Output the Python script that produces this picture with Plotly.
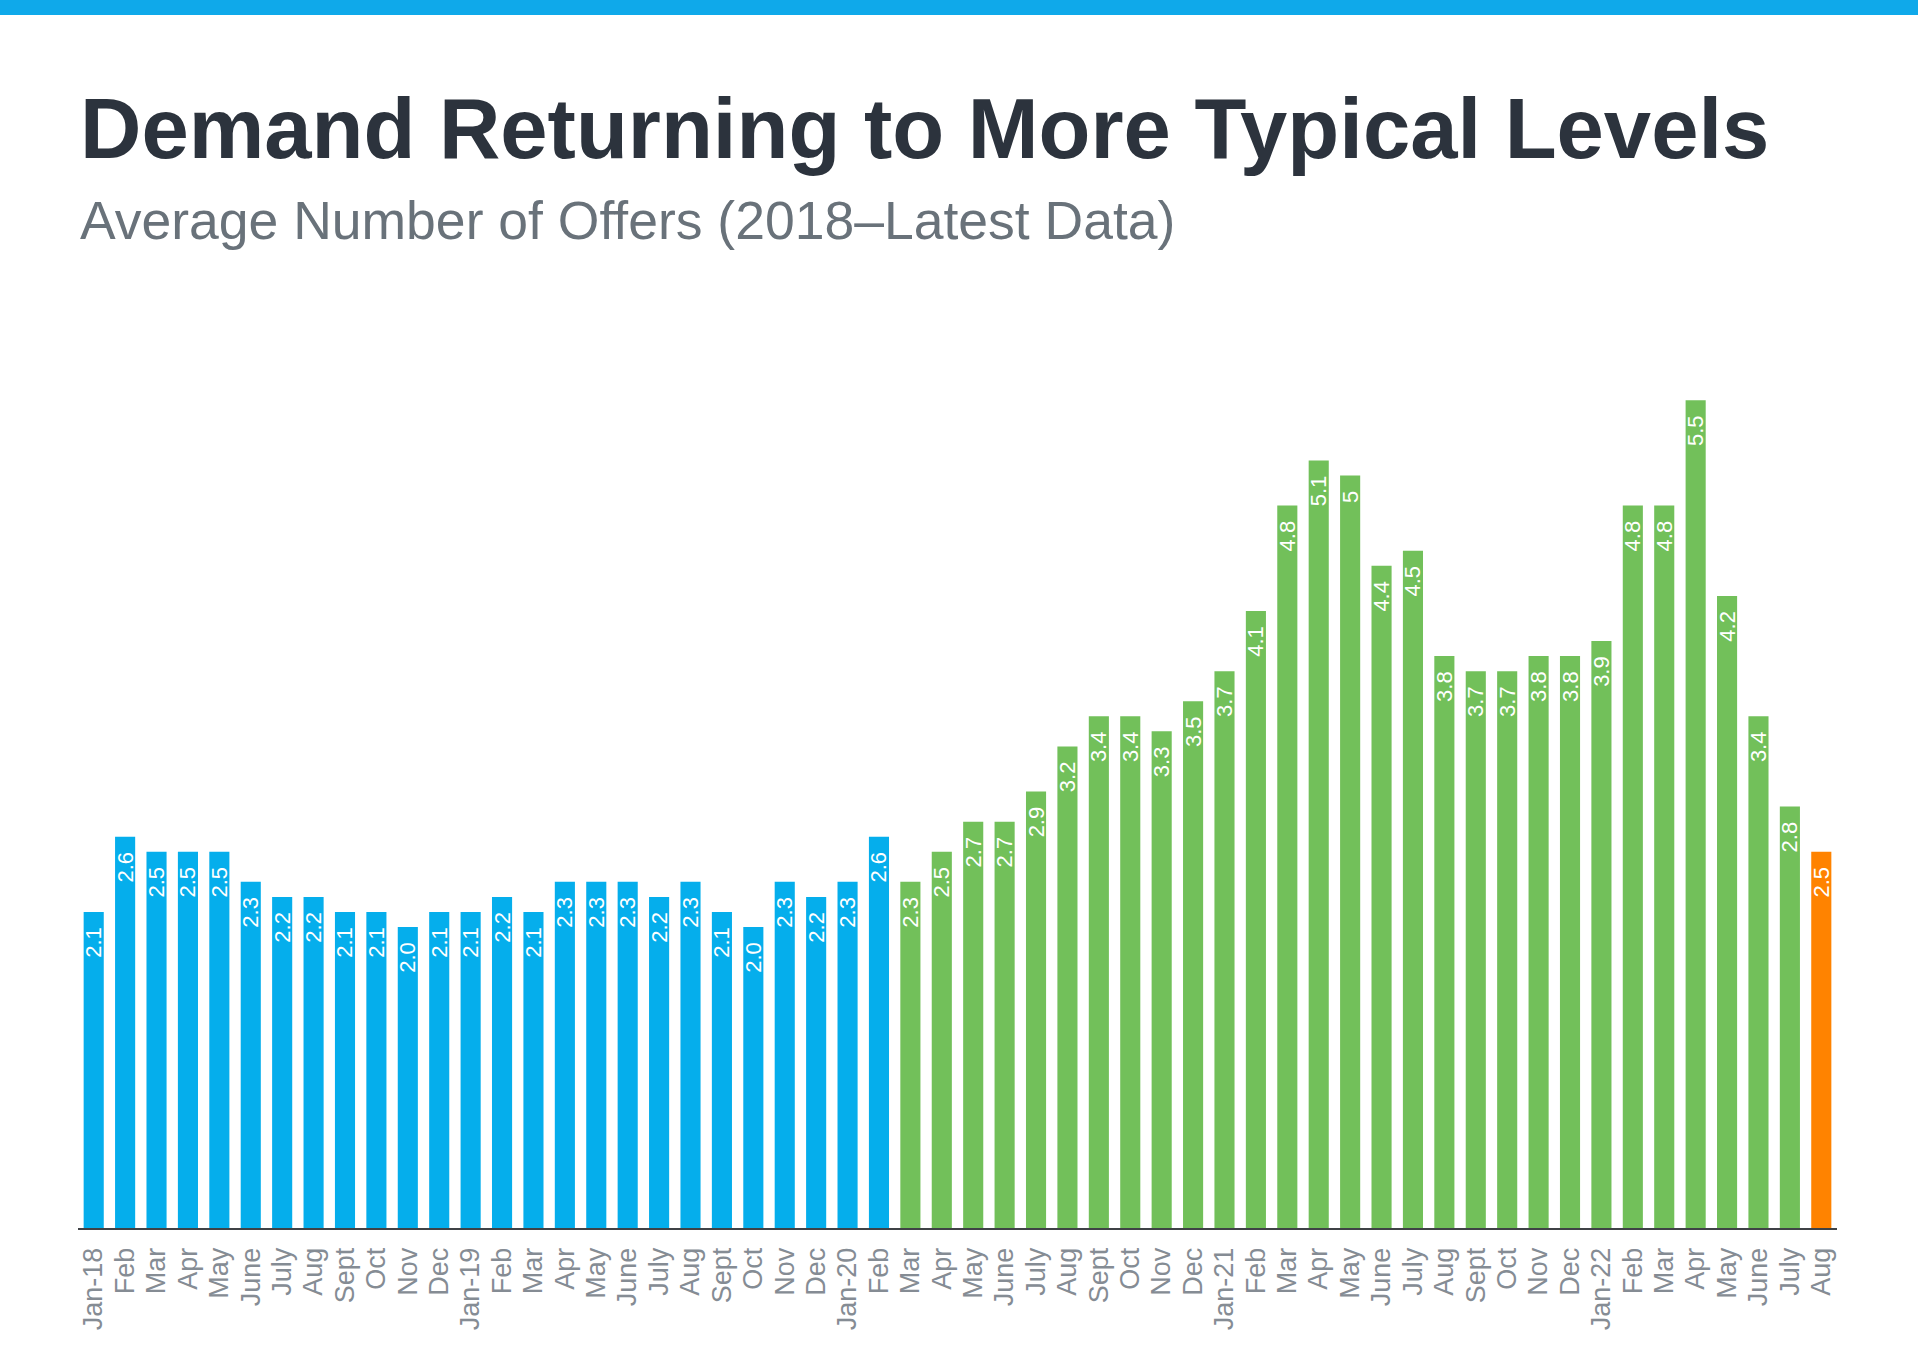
import plotly.graph_objects as go

# ---- data ----
month_labels = [
    "Jan-18", "Feb", "Mar", "Apr", "May", "June", "July", "Aug", "Sept", "Oct", "Nov", "Dec",
    "Jan-19", "Feb", "Mar", "Apr", "May", "June", "July", "Aug", "Sept", "Oct", "Nov", "Dec",
    "Jan-20", "Feb", "Mar", "Apr", "May", "June", "July", "Aug", "Sept", "Oct", "Nov", "Dec",
    "Jan-21", "Feb", "Mar", "Apr", "May", "June", "July", "Aug", "Sept", "Oct", "Nov", "Dec",
    "Jan-22", "Feb", "Mar", "Apr", "May", "June", "July", "Aug",
]
offers = [
    2.1, 2.6, 2.5, 2.5, 2.5, 2.3, 2.2, 2.2, 2.1, 2.1, 2.0, 2.1,
    2.1, 2.2, 2.1, 2.3, 2.3, 2.3, 2.2, 2.3, 2.1, 2.0, 2.3, 2.2,
    2.3, 2.6, 2.3, 2.5, 2.7, 2.7, 2.9, 3.2, 3.4, 3.4, 3.3, 3.5,
    3.7, 4.1, 4.8, 5.1, 5.0, 4.4, 4.5, 3.8, 3.7, 3.7, 3.8, 3.8,
    3.9, 4.8, 4.8, 5.5, 4.2, 3.4, 2.8, 2.5,
]
offer_labels = [
    "2.1", "2.6", "2.5", "2.5", "2.5", "2.3", "2.2", "2.2", "2.1", "2.1", "2.0", "2.1",
    "2.1", "2.2", "2.1", "2.3", "2.3", "2.3", "2.2", "2.3", "2.1", "2.0", "2.3", "2.2",
    "2.3", "2.6", "2.3", "2.5", "2.7", "2.7", "2.9", "3.2", "3.4", "3.4", "3.3", "3.5",
    "3.7", "4.1", "4.8", "5.1", "5", "4.4", "4.5", "3.8", "3.7", "3.7", "3.8", "3.8",
    "3.9", "4.8", "4.8", "5.5", "4.2", "3.4", "2.8", "2.5",
]
# period of each bar: pre-pandemic (through Feb-20), pandemic era, latest month
period_counts = {"pre": 26, "pandemic": 29, "latest": 1}
period_colors = {"pre": "#05AEEC", "pandemic": "#72C05A", "latest": "#FF8300"}

TITLE = "Demand Returning to More Typical Levels"
SUBTITLE = "Average Number of Offers (2018\u2013Latest Data)"

# ---- build ----
bar_colors = []
for p, n in period_counts.items():
    bar_colors += [period_colors[p]] * n

x_idx = list(range(len(offers)))
pad = "\u00a0\u00a0"

fig = go.Figure(
    go.Bar(
        x=x_idx,
        y=offers,
        marker=dict(color=bar_colors, line=dict(width=0)),
        text=[t + pad for t in offer_labels],
        textposition="inside",
        insidetextanchor="end",
        textangle=-90,
        constraintext="none",
        insidetextfont=dict(family="Liberation Sans, Arial, sans-serif", size=22, color="white"),
        hoverinfo="skip",
    )
)

W, H = 1918, 1348
ml, mr, mt, mb = 78, 81, 325, 120
plot_w = W - ml - mr
plot_h = H - mt - mb


def px_to_paper_x(px):
    return (px - ml) / plot_w


def px_to_paper_y(py):
    return (H - mb - py) / plot_h


fig.update_layout(
    width=W,
    height=H,
    margin=dict(l=ml, r=mr, t=mt, b=mb, pad=0),
    paper_bgcolor="white",
    plot_bgcolor="white",
    showlegend=False,
    bargap=0.36,
    font=dict(family="Liberation Sans, Arial, sans-serif"),
    xaxis=dict(
        tickmode="array",
        tickvals=x_idx,
        ticktext=month_labels,
        tickangle=-90,
        tickfont=dict(size=27, color="#858C94"),
        ticks="outside",
        ticklen=7,
        tickcolor="rgba(0,0,0,0)",
        showline=True,
        linecolor="#3F4246",
        linewidth=2,
        showgrid=False,
        zeroline=False,
        range=[-0.5, len(offers) - 0.5],
        fixedrange=True,
    ),
    yaxis=dict(visible=False, range=[0, 6], showgrid=False, zeroline=False, fixedrange=True),
    shapes=[
        dict(
            type="rect", xref="paper", yref="paper",
            x0=px_to_paper_x(-2), x1=px_to_paper_x(W + 2),
            y0=px_to_paper_y(15), y1=px_to_paper_y(-2),
            fillcolor="#0FA9EA", line=dict(width=0), layer="above",
        )
    ],
    annotations=[
        dict(
            text="<b>" + TITLE + "</b>", xref="paper", yref="paper",
            x=px_to_paper_x(78), y=px_to_paper_y(128.5), xanchor="left", yanchor="middle",
            showarrow=False, font=dict(size=85, color="#2C333D"),
        ),
        dict(
            text=SUBTITLE, xref="paper", yref="paper",
            x=px_to_paper_x(78), y=px_to_paper_y(220), xanchor="left", yanchor="middle",
            showarrow=False, font=dict(size=53.5, color="#69727A"),
        ),
    ],
)

fig.write_html(
    "out.html",
    config={"displayModeBar": False, "staticPlot": True},
    post_script="document.body.style.margin='0px';document.body.style.overflow='hidden';",
)
